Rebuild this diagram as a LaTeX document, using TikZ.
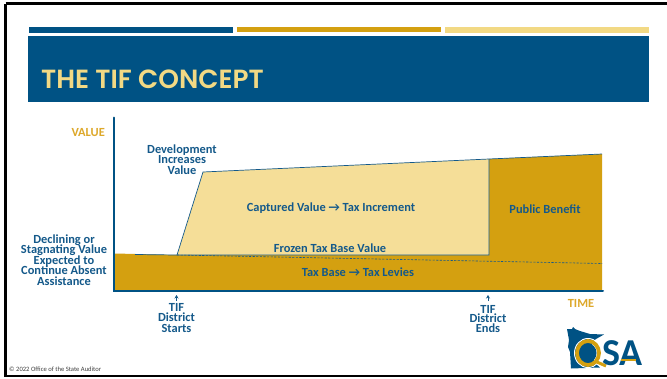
\documentclass[tikz,border=0pt]{standalone}
\usepackage{fontspec}
\setmainfont{Carlito}
\newfontfamily\titlefont{Poppins SemiBold}
\definecolor{osablue}{HTML}{005284}
\definecolor{osagold}{HTML}{D4A010}
\definecolor{osalight}{HTML}{F5DE98}
\definecolor{barlight}{HTML}{F2D984}
\definecolor{txtblue}{HTML}{14598A}
\definecolor{axisgold}{HTML}{DDA82A}
\usetikzlibrary{arrows.meta}
\tikzset{
  lbl/.style={font=\fontsize{12.4}{10.4}\selectfont\bfseries, text=txtblue, align=center, inner sep=0pt},
  axlbl/.style={font=\fontsize{12.4}{12}\selectfont\bfseries, text=axisgold, inner sep=0pt},
  edge/.style={draw=txtblue, line width=0.7pt},
  tick/.style={-{Stealth[length=3.5pt,width=4pt]}, draw=txtblue, line width=0.8pt}
}
\lineskiplimit=-8pt
\begin{document}
\begin{tikzpicture}[x=1pt,y=-1pt]
\useasboundingbox (0,0) rectangle (667,378);
\fill[white] (0,0) rectangle (667,378);
% frame
\draw[black, line width=2.4pt] (5.5,3.5) -- (667,3.5);
\draw[black, line width=2.4pt] (5.5,3.5) -- (5.5,376) -- (667,376);
% header bars
\fill[osablue] (29,27) rectangle (233,33);
\fill[osagold] (237,27) rectangle (441,32);
\fill[barlight] (445,27) rectangle (649,33);
\fill[osablue] (28,36) rectangle (649,102);
\node[anchor=base west, inner sep=0pt, text=barlight, font=\fontsize{26.3}{26}\selectfont\titlefont] (title) at (41,88) {THE TIF CONCEPT};
% areas
\fill[osagold] (115,253.5) -- (177,255) -- (489,255) -- (489,159) -- (602,154) -- (602,290) -- (115,290) -- cycle;
\fill[osalight] (177,255) -- (203,172) -- (489,159) -- (489,255) -- cycle;
\draw[edge] (177,255) -- (203,172) -- (489,159) -- (602,154);
\draw[edge] (489,159) -- (489,255) -- (177,255) -- (135,254.5);
\draw[txtblue, line width=0.6pt, dash pattern=on 2.2pt off 1.4pt] (177,255) -- (602,263.5);
% axes
\draw[osablue, line width=2pt, line cap=round] (114,117.5) -- (114,290.5) -- (603,290.5);
% labels
\node[axlbl, anchor=east] (val) at (105,132.5) {VALUE};
\node[axlbl, anchor=center] (tm) at (581,303) {TIME};
\node[lbl] (dev) at (182,159.5) {Development\\Increases\\Value};
\node[lbl] (cap) at (331,208) {Captured Value → Tax Increment};
\node[lbl] (pub) at (545,209) {Public Benefit};
\node[lbl] (frz) at (330,248.5) {Frozen Tax Base Value};
\node[lbl] (bas) at (358,272.5) {Tax Base → Tax Levies};
\node[lbl] (dec) at (64,260) {Declining or\\Stagnating Value\\Expected to\\Continue Absent\\Assistance};
\node[lbl] (st) at (176.5,318) {TIF\\District\\Starts};
\node[lbl, font=\fontsize{12.4}{9.6}\selectfont\bfseries] (en) at (488,319) {TIF\\District\\Ends};
\coordinate (sa) at (176.5,295);
\coordinate (ea) at (488,295);
\coordinate (sb) at (176.5,301);
\coordinate (eb) at (488,301);
\draw[tick] (sb) -- (sa);
\draw[tick] (eb) -- (ea);
% copyright
\node[anchor=west, inner sep=0pt, text=black!75, font=\fontsize{6.6}{6.6}\selectfont] (cr) at (9,369.5) {© 2022 Office of the State Auditor};
% logo
\fill[osablue] (567,329) -- (572,329) -- (573,327) -- (575,329) -- (580,331) -- (590,334) -- (604,334.5) -- (596,339) -- (592,342) -- (592,349) -- (590,354) -- (596,364) -- (600,367.5) -- (571,368.5) -- (570,352) -- (568,347) -- (569,340) -- cycle;
\draw[white, line width=1pt] (588,353) ellipse (13.5pt and 14.5pt);
\draw[osagold, line width=3.8pt] (588,353) ellipse (11pt and 12pt);
\fill[osablue] (588,353) ellipse (8.5pt and 9.5pt);
\draw[osagold, line width=3pt] (597,362) -- (606,366);
\node[anchor=base west, inner sep=0pt, text=osablue, font=\fontsize{38}{38}\selectfont\bfseries] (sl) at (602,365) {SA};
\draw[osagold, line width=2pt] (621,360) -- (636,360);
\end{tikzpicture}
\end{document}
